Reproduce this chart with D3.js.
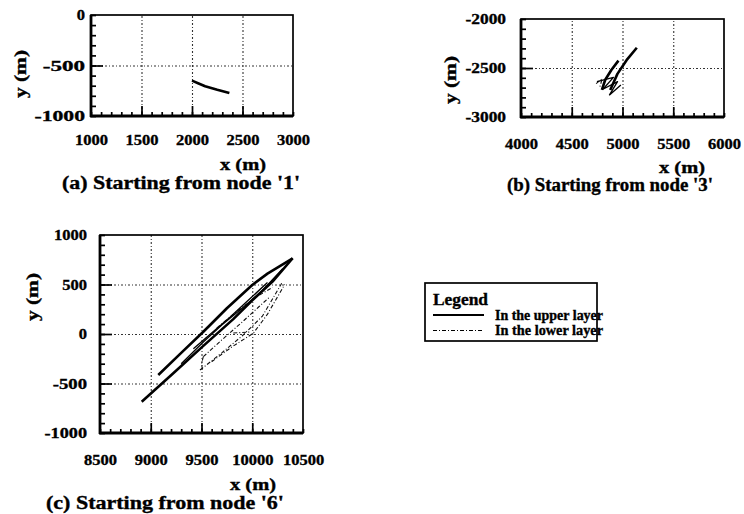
<!DOCTYPE html>
<html><head><meta charset="utf-8">
<script src="https://cdn.jsdelivr.net/npm/d3@7"></script>
<style>
body{margin:0;background:#fff;}
svg{display:block;}
</style></head>
<body>
<svg id="c" width="744" height="514"></svg>
<script>
// ---------- DATA ----------
const panelTitles = ["(a) Starting from node '1'", "(b) Starting from node '3'", "(c) Starting from node '6'"];
const xTicksA = [1000, 1500, 2000, 2500, 3000];
const yTicksA = [-1000, -500, 0];
const xTicksB = [4000, 4500, 5000, 5500, 6000];
const yTicksB = [-3000, -2500, -2000];
const xTicksC = [8500, 9000, 9500, 10000, 10500];
const yTicksC = [-1000, -500, 0, 500, 1000];
const legendTitle = "Legend";
const legendLabels = ["In the upper layer", "In the lower layer"];

// panel (a) path, upper layer
const upperA = [
  [[2000, -650], [2060, -675], [2130, -705], [2250, -740], [2370, -772]]
];
const lowerA = [];

// panel (b) paths
const upperB = [
  [[5141, -2293], [5040, -2420], [4950, -2560], [4879, -2724]],
  [[4960, -2425], [4890, -2520], [4830, -2620], [4797, -2724]],
  [[4748, -2639], [4911, -2595], [4807, -2717], [4951, -2639], [4872, -2775], [4984, -2673]]
];
const lowerB = [
  [[4740, -2660], [4800, -2610], [4775, -2700]]
];

// panel (c) paths
const upperC = [
  [[9074, -414], [9300, -190], [9518, 23], [9750, 260], [10000, 495], [10150, 610], [10398, 765]],
  [[8911, -684], [9222, -397], [9518, -120], [9813, 150], [10000, 340], [10200, 530], [10398, 765]],
  [[9300, -300], [9518, -80], [9700, 90], [9900, 260], [10100, 440], [10300, 660]],
  [[9420, -150], [9600, 10], [9780, 170], [9950, 330], [10150, 520]]
];
const lowerC = [
  [[9485, -364], [9700, -190], [9900, -20], [10100, 180], [10290, 512]],
  [[9518, -229], [9500, -300], [9510, -364]],
  [[9518, -229], [9700, -60], [9900, 120], [10060, 270], [10175, 377]],
  [[9600, -280], [9800, -130], [10010, 7], [10150, 200], [10320, 500]],
  [[9813, 10], [9980, 20]],
  [[9650, 60], [9850, 230], [10050, 380], [10200, 470]]
];

// ---------- DRAW ----------
const svg = d3.select("#c");
const SERIF = '"Liberation Serif", "Times New Roman", Times, serif';

function styleText(sel, size) {
  sel.style("font-family", SERIF).style("font-weight", "bold").style("font-size", size + "px")
    .style("fill", "#000").style("stroke", "#000").style("stroke-width", "0.35px");
}
function stretch(sel, factor, extra) {
  sel.each(function () {
    const n = this.getComputedTextLength();
    const add = extra ? extra(this) : 0;
    d3.select(this).attr("textLength", n * factor + add).attr("lengthAdjust", "spacingAndGlyphs");
  });
}

const panels = [
  {xT: xTicksA, yT: yTicksA, up: upperA, lo: lowerA, title: panelTitles[0], neg: 12,
   L: 91, R: 293, T: 15, B: 116, lp: 18, ylx: 85, xm: [243, 164], tt: [181, 183], ym: [20, 74], tw: 238},
  {xT: xTicksB, yT: yTicksB, up: upperB, lo: lowerB, title: panelTitles[1], neg: 2,
   L: 521, R: 724, T: 19, B: 117, lp: 21, ylx: 506, xm: [682, 167], tt: [610, 185], ym: [450, 80], tw: 206},
  {xT: xTicksC, yT: yTicksC, up: upperC, lo: lowerC, title: panelTitles[2], neg: 4,
   L: 100, R: 303, T: 235, B: 433, lp: 21, ylx: 87, xm: [253, 484], tt: [165, 503], ym: [32, 297], tw: 238}
];

panels.forEach(p => {
  const g = svg.append("g");
  const xd = [p.xT[0], p.xT[p.xT.length - 1]];
  const yd = [p.yT[0], p.yT[p.yT.length - 1]];
  const x = d3.scaleLinear().domain(xd).range([p.L, p.R]);
  const y = d3.scaleLinear().domain(yd).range([p.B, p.T]);
  const w = p.R - p.L, h = p.B - p.T;
  const innerX = p.xT.slice(1, -1), innerY = p.yT.slice(1, -1);

  // gridlines
  const gx = g.append("g").attr("transform", `translate(0,${p.B})`)
    .call(d3.axisBottom(x).tickValues(innerX).tickSize(-h).tickFormat(""));
  const gy = g.append("g").attr("transform", `translate(${p.L},0)`)
    .call(d3.axisLeft(y).tickValues(innerY).tickSize(-w).tickFormat(""));
  [gx, gy].forEach(a => {
    a.select(".domain").remove();
    a.selectAll("line").attr("stroke", "#333").attr("stroke-width", 1.1).attr("stroke-dasharray", "2,2,1,2");
  });

  // minor / major inward ticks
  const minX = d3.range(xd[0], xd[1] + 1, 100);
  const minY = d3.range(yd[0], yd[1] + 1, 100);
  const mx = g.append("g").attr("transform", `translate(0,${p.B})`)
    .call(d3.axisBottom(x).tickValues(minX).tickSize(-4).tickFormat(""));
  const my = g.append("g").attr("transform", `translate(${p.L},0)`)
    .call(d3.axisLeft(y).tickValues(minY).tickSize(-5).tickFormat(""));
  const Mx = g.append("g").attr("transform", `translate(0,${p.B})`)
    .call(d3.axisBottom(x).tickValues(innerX).tickSize(-10).tickFormat(""));
  const My = g.append("g").attr("transform", `translate(${p.L},0)`)
    .call(d3.axisLeft(y).tickValues(innerY).tickSize(-12).tickFormat(""));
  [mx, my, Mx, My].forEach(a => {
    a.select(".domain").remove();
    a.selectAll("line").attr("stroke", "#000").attr("stroke-width", 1.7);
  });

  // data lines
  const line = d3.line().x(d => x(d[0])).y(d => y(d[1]));
  p.lo.forEach(s => g.append("path").attr("d", line(s)).attr("fill", "none")
    .attr("stroke", "#111").attr("stroke-width", 1.1).attr("stroke-dasharray", "4,2,1,2"));
  p.up.forEach((s, i) => g.append("path").attr("d", line(s)).attr("fill", "none")
    .attr("stroke", "#000").attr("stroke-width", i < 2 ? 2.6 : 1.3).attr("stroke-linejoin", "round"));

  // frame
  g.append("rect").attr("x", p.L).attr("y", p.T).attr("width", w).attr("height", h)
    .attr("fill", "none").attr("stroke", "#000").attr("stroke-width", 1.7);
  g.append("line").attr("x1", p.L).attr("x2", p.L).attr("y1", p.T).attr("y2", p.B + 1)
    .attr("stroke", "#000").attr("stroke-width", 2.8);
  g.append("line").attr("x1", p.L - 1).attr("x2", p.R).attr("y1", p.B).attr("y2", p.B)
    .attr("stroke", "#000").attr("stroke-width", 2.8);

  // tick labels
  const lx = g.append("g").attr("transform", `translate(0,${p.B})`)
    .call(d3.axisBottom(x).tickValues(p.xT).tickSize(0).tickPadding(p.lp).tickFormat(d3.format("d")));
  const ly = g.append("g").attr("transform", `translate(${p.ylx},0)`)
    .call(d3.axisLeft(y).tickValues(p.yT).tickSize(0).tickPadding(0).tickFormat(d => String(d)));
  [lx, ly].forEach(a => {
    a.select(".domain").remove();
    styleText(a.selectAll("text"), 15);
  });
  stretch(lx.selectAll("text"), 1.1);
  stretch(ly.selectAll("text"), 1.1, el => (el.textContent.startsWith("-") ? p.neg : 0));

  // axis titles
  const xt = g.append("text").attr("x", p.xm[0]).attr("y", p.xm[1]).attr("text-anchor", "middle")
    .attr("dominant-baseline", "central").text("x (m)");
  styleText(xt, 16); xt.attr("textLength", 46).attr("lengthAdjust", "spacingAndGlyphs");
  const yt = g.append("text").attr("transform", `translate(${p.ym[0]},${p.ym[1]}) rotate(-90)`)
    .attr("text-anchor", "middle").attr("dominant-baseline", "central").text("y (m)");
  styleText(yt, 16); yt.attr("textLength", 48).attr("lengthAdjust", "spacingAndGlyphs");
  const tt = g.append("text").attr("x", p.tt[0]).attr("y", p.tt[1]).attr("text-anchor", "middle")
    .attr("dominant-baseline", "central").text(p.title);
  styleText(tt, 18);
  tt.attr("textLength", p.tw).attr("lengthAdjust", "spacingAndGlyphs");
});

// legend
const lg = svg.append("g");
const lt = lg.append("text").attr("x", 433).attr("y", 299).attr("dominant-baseline", "central").text(legendTitle);
styleText(lt, 16); lt.attr("textLength", 55).attr("lengthAdjust", "spacingAndGlyphs");
legendLabels.forEach((lab, i) => {
  const yy = 315 + i * 15.5;
  lg.append("line").attr("x1", 433).attr("x2", 484).attr("y1", yy).attr("y2", yy)
    .attr("stroke", "#000").attr("stroke-width", i === 0 ? 1.8 : 1.1)
    .attr("stroke-dasharray", i === 0 ? null : "4,2,1,2");
  const t = lg.append("text").attr("x", 495).attr("y", yy).attr("dominant-baseline", "central").text(lab);
  styleText(t, 14);
  t.attr("textLength", 108).attr("lengthAdjust", "spacingAndGlyphs");
});
lg.append("rect").attr("x", 425).attr("y", 283).attr("width", 172).attr("height", 58)
  .attr("fill", "none").attr("stroke", "#000").attr("stroke-width", 1.7);
</script>
</body></html>
